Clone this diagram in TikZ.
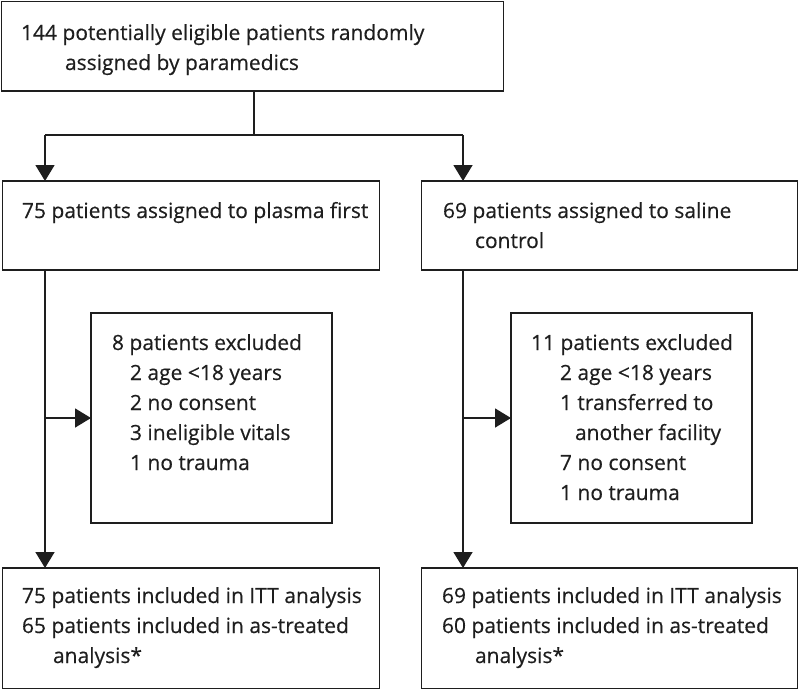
\documentclass[tikz,border=0pt]{standalone}
\usepackage{fontspec}
\setmainfont{Open Sans}[FakeBold=0.4]
\usetikzlibrary{arrows.meta}
\definecolor{ink}{HTML}{1E1E1E}
\tikzset{
  box/.style={draw=ink, line width=1.6pt, rectangle, inner sep=0pt, outer sep=0pt},
  txt/.style={anchor=base west, inner sep=0pt, outer sep=0pt, text=ink, font=\fontsize{21}{30}\selectfont},
  conn/.style={draw=ink, line width=1.6pt},
  arr/.style={conn, -{Triangle[length=16pt,width=19pt]}}
}
\begin{document}
\begin{tikzpicture}[x=1pt,y=-1pt]
\useasboundingbox (0,0) rectangle (800,691);
% boxes
\node[box, minimum width=502pt, minimum height=89.5pt] (tb) at (252.5,46.25) {};
\node[box, minimum width=377pt, minimum height=89pt] (lm) at (191,225.5) {};
\node[box, minimum width=376pt, minimum height=89pt] (rm) at (609.5,225.5) {};
\node[box, minimum width=241pt, minimum height=210pt] (le) at (211.5,418) {};
\node[box, minimum width=241pt, minimum height=210pt] (re) at (631.5,418) {};
\node[box, minimum width=377pt, minimum height=120.5pt] (lb) at (191,628.25) {};
\node[box, minimum width=376pt, minimum height=120.5pt] (rb) at (609.5,628.25) {};
% texts
\node[txt] (t1) at (21,40) {144 potentially eligible patients randomly};
\node[txt] (t2) at (65,70) {assigned by paramedics};
\node[txt] (t3) at (22,218) {75 patients assigned to plasma first};
\node[txt] (t4) at (443,218) {69 patients assigned to saline};
\node[txt] (t5) at (475,248) {control};
\node[txt] (t6) at (112,350) {8 patients excluded};
\node[txt] (t7) at (130,380) {2 age <18 years};
\node[txt] (t8) at (130,410) {2 no consent};
\node[txt] (t9) at (130,440) {3 ineligible vitals};
\node[txt] (t10) at (130,470) {1 no trauma};
\node[txt] (t11) at (531,350) {11 patients excluded};
\node[txt] (t12) at (560,380) {2 age <18 years};
\node[txt] (t13) at (560,410) {1 transferred to};
\node[txt] (t14) at (575,440) {another facility};
\node[txt] (t15) at (560,470) {7 no consent};
\node[txt] (t16) at (560,500) {1 no trauma};
\node[txt] (t17) at (22,603) {75 patients included in ITT analysis};
\node[txt] (t18) at (22,633) {65 patients included in as-treated};
\node[txt] (t19) at (53,663) {analysis*};
\node[txt] (t20) at (442,603) {69 patients included in ITT analysis};
\node[txt] (t21) at (442,633) {60 patients included in as-treated};
\node[txt] (t22) at (475,663) {analysis*};
% connectors
\coordinate (split) at (254,135);
\coordinate (jl) at (45,135);
\coordinate (jr) at (463,135);
\draw[conn] (tb.south -| split) -- (split);
\draw[conn] (jl) -- (jr);
\draw[arr] (jl) -- (jl |- lm.north);
\draw[arr] (jr) -- (jr |- rm.north);
\draw[arr] (jl |- lm.south) -- (jl |- lb.north);
\draw[arr] (jr |- rm.south) -- (jr |- rb.north);
\draw[arr] (jl |- le.west) -- (le.west);
\draw[arr] (jr |- re.west) -- (re.west);
\end{tikzpicture}
\end{document}
